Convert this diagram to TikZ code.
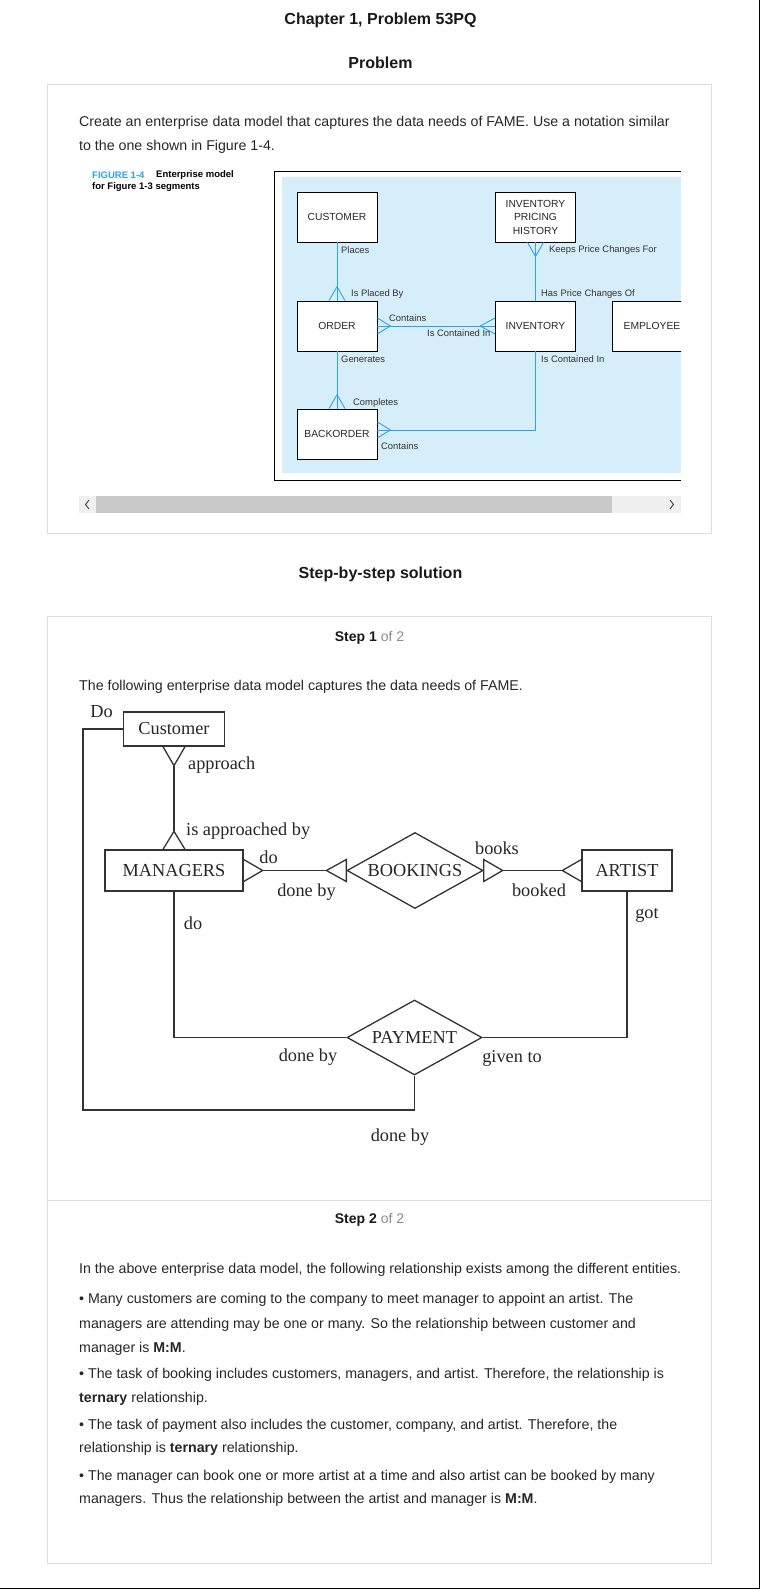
\documentclass[tikz,border=0pt]{standalone}
\usepackage{fontspec}
\setmainfont{Liberation Sans}
\newfontfamily\erfont{Liberation Serif}
\usepackage{tikz}
\usetikzlibrary{shapes.geometric,calc}
\definecolor{figblue}{HTML}{2EA3DD}
\definecolor{figfill}{HTML}{D5EEFA}
\definecolor{panelgray}{HTML}{DDDDDD}
\definecolor{labelgray}{HTML}{333333}
\definecolor{stepgray}{HTML}{8A8A8A}
\definecolor{barthumb}{HTML}{C9C9C9}
\definecolor{bartrack}{HTML}{F0F0F0}
\newcommand*{\fsz}[1]{\fontsize{#1}{#1}\selectfont}

\begin{document}
\begin{tikzpicture}[x=1pt, y=-1pt,
    erline/.style={draw=black!80, line width=1.3pt},
    figline/.style={draw=figblue, line width=0.9pt},
    panel/.style={draw=panelgray, line width=1pt}]
  \useasboundingbox (0,0) rectangle (761,1590);

  {\tikzstyle{every node}=[font=\fsz{16}\bfseries, text=black!90]
    \node (chap) at (380.5,20) {Chapter 1, Problem 53PQ};
    \node (prob) at (380.5,63) {Problem};
    \node (sbs) at (380.5,574) {Step-by-step solution};
  }
  {\tikzstyle{every node}=[font=\fsz{14}, text=black!90]
    \node (st1) at (369.5,638) {\textbf{Step 1} \textcolor{stepgray}{of 2}};
    \node (st2) at (369.5,1220) {\textbf{Step 2} \textcolor{stepgray}{of 2}};
  }

  \draw[panel] (47.5,84) rectangle (711.5,533);
  \draw[panel] (47.5,616) rectangle (711.5,1563);
  \draw[panel] (47.5,1200) -- (711.5,1200);
  \draw[black, line width=1.5pt] (759.5,0) -- (759.5,1588.5) -- (0,1588.5);

  {\tikzstyle{every node}=[anchor=west, inner sep=0pt, font=\fsz{14.2}, text=black!85]
    \node (q1) at (79,123) {Create an enterprise data model that captures the data needs of FAME. Use a notation similar};
    \node (q2) at (79,147) {to the one shown in Figure 1-4.};
    \node (s1) at (79,687) {The following enterprise data model captures the data needs of FAME.};
    \foreach \y/\t [count=\i] in {
        1270/{In the above enterprise data model, the following relationship exists among the different entities.},
        1300/{• Many customers are coming to the company to meet manager to appoint an artist. The},
        1325/{managers are attending may be one or many. So the relationship between customer and},
        1349/{manager is \textbf{M:M}.},
        1375/{• The task of booking includes customers, managers, and artist. Therefore, the relationship is},
        1399/{\textbf{ternary} relationship.},
        1426/{• The task of payment also includes the customer, company, and artist. Therefore, the},
        1449/{relationship is \textbf{ternary} relationship.},
        1477/{• The manager can book one or more artist at a time and also artist can be booked by many},
        1500/{managers. Thus the relationship between the artist and manager is \textbf{M:M}.}}
      \node (s2l\i) at (79,\y) {\t};
  }

  {\tikzstyle{every node}=[anchor=west, inner sep=0pt, font=\fsz{9.5}\bfseries]
    \node[text=figblue] (cap1) at (92,175) {FIGURE 1-4};
    \node (cap2) at (156,175) {Enterprise model};
    \node (cap3) at (92,187) {for Figure 1-3 segments};
  }

  \fill[figfill] (282,177) rectangle (681,473);
  \draw[black, line width=1pt] (681,171) -- (274,171) -- (274,480) -- (681,480);

  {\tikzstyle{every node}=[draw=black, fill=white, line width=0.8pt, minimum width=80pt, minimum height=50pt, inner sep=0pt, align=center, font=\fsz{10.3}, text=black!85]
    \node (fcust) at (337,217) {CUSTOMER};
    \node (forder) at (337,326) {ORDER};
    \node (fback) at (337,434) {BACKORDER};
    \node[font=\fontsize{10.3}{13.5}\selectfont] (fiph) at (535.5,217) {INVENTORY\\PRICING\\HISTORY};
    \node (finv) at (535.5,326) {INVENTORY};
    \begin{scope}
      \clip (282,177) rectangle (681,473);
      \node (femp) at (652,326) {EMPLOYEE};
    \end{scope}
  }

  \draw[figline] (fcust.south) -- (forder.north);
  \draw[figline] (forder.east) -- (finv.west);
  \draw[figline] (fiph.south) -- (finv.north);
  \draw[figline] (forder.south) -- (fback.north);
  \draw[figline] (finv.south) |- ($(fback.east)+(0,-4)$);
  \foreach \d in {-8,0,8} {
    \draw[figline] ($(forder.north)+(0,-14)$) -- ($(forder.north)+(\d,0)$);
    \draw[figline] ($(fback.north)+(0,-14)$) -- ($(fback.north)+(\d,0)$);
    \draw[figline] ($(fiph.south)+(0,14)$) -- ($(fiph.south)+(\d,0)$);
    \draw[figline] ($(forder.east)+(13,0)$) -- ($(forder.east)+(0,\d)$);
    \draw[figline] ($(finv.west)+(-15,0)$) -- ($(finv.west)+(0,\d)$);
    \draw[figline] ($(fback.east)+(13,-4)$) -- ($(fback.east)+(0,\d-4)$);
  }

  {\tikzstyle{every node}=[anchor=west, inner sep=0pt, font=\fsz{9.4}, text=labelgray]
    \node (fplaces) at (341,250) {Places};
    \node (fplaced) at (351,294) {Is Placed By};
    \node (fcont) at (389,318) {Contains};
    \node (fcontin) at (427,333) {Is Contained In};
    \node (fgen) at (341,359) {Generates};
    \node (fcompl) at (353,403) {Completes};
    \node (fcont2) at (381,446) {Contains};
    \node (fkeeps) at (549,250) {Keeps Price Changes For};
    \node (fhas) at (541,294) {Has Price Changes Of};
    \node (fcontin2) at (541,359) {Is Contained In};
  }

  \fill[bartrack] (79,496) rectangle (681,513);
  \fill[barthumb] (96,496) rectangle (612,513);
  \draw[black!70, line width=1pt] (89,500) -- (85.5,504.5) -- (89,509);
  \draw[black!70, line width=1pt] (670,500) -- (673.5,504.5) -- (670,509);

  {\tikzstyle{every node}=[draw=black!80, line width=1.3pt, font=\erfont\fsz{18.3}, inner sep=0pt, text=black!85]
    \node[minimum width=101pt, minimum height=34pt] (cust) at (174,729) {Customer};
    \node[minimum width=138pt, minimum height=41pt] (mgr) at (174,870.5) {MANAGERS};
    \node[minimum width=90pt, minimum height=41pt] (art) at (627,870.5) {ARTIST};
    \node[diamond, aspect=1.8, minimum width=136pt, minimum height=76pt] (book) at (415,870.5) {BOOKINGS};
    \node[diamond, aspect=1.8, minimum width=135pt, minimum height=75pt] (pay) at (414.5,1037.5) {PAYMENT};
  }

  \draw[erline] ($(cust.south)+(-11,0)$) -- ($(cust.south)+(0,19)$) coordinate (custft) -- ($(cust.south)+(11,0)$);
  \draw[erline] ($(mgr.north)+(-11,0)$) -- ($(mgr.north)+(0,-18)$) coordinate (mgrft) -- ($(mgr.north)+(11,0)$);
  \draw[erline] ($(mgr.east)+(0,-11)$) -- ($(mgr.east)+(19,0)$) coordinate (mgrrt) -- ($(mgr.east)+(0,11)$);
  \draw[erline] ($(book.west)+(0,-11)$) -- ($(book.west)+(-20,0)$) coordinate (booklt) -- ($(book.west)+(0,11)$) -- cycle;
  \draw[erline] ($(book.east)+(0,-11)$) -- ($(book.east)+(19,0)$) coordinate (bookrt) -- ($(book.east)+(0,11)$) -- cycle;
  \draw[erline] ($(art.west)+(0,-11)$) -- ($(art.west)+(-19,0)$) coordinate (artlt) -- ($(art.west)+(0,11)$);

  \coordinate (loopc) at (83,1110);
  \draw[erline] (custft) -- (mgrft);
  \draw[erline] (mgrrt) -- (booklt);
  \draw[erline] (bookrt) -- (artlt);
  \draw[erline] (art.south) |- (pay.east);
  \draw[erline] (mgr.south) |- (pay.west);
  \draw[erline] (pay.south) |- (loopc) |- (cust.west);

  {\tikzstyle{every node}=[inner sep=0pt, font=\erfont\fsz{18.3}, text=black!85]
    \node (lbdo) at (101.5,712) {Do};
    \node[anchor=west] (lbappr) at (188,765) {approach};
    \node[anchor=west] (lbisappr) at (186,831) {is approached by};
    \node (lbdo2) at (268.5,857) {do};
    \node (lbdone) at (306.5,892) {done by};
    \node (lbbooks) at (497,848) {books};
    \node (lbbooked) at (539,890) {booked};
    \node (lbgot) at (647,915) {got};
    \node (lbdo3) at (193,923) {do};
    \node (lbdone2) at (308,1057) {done by};
    \node (lbgiven) at (512,1058) {given to};
    \node (lbdone3) at (400,1137) {done by};
  }
\end{tikzpicture}
\end{document}
